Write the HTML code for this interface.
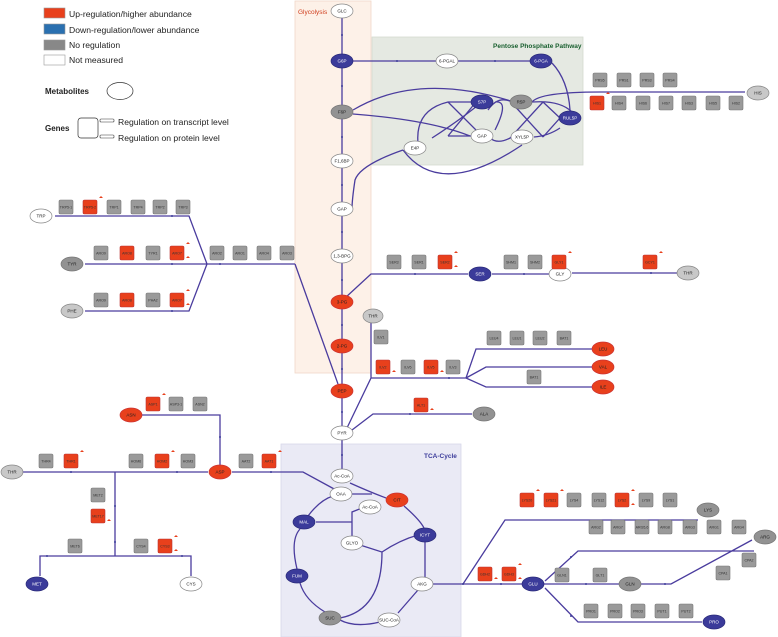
<!DOCTYPE html>
<html><head><meta charset="utf-8"><style>
html,body{margin:0;padding:0;background:#fff}
svg{display:block;font-family:"Liberation Sans",sans-serif}
.l{fill:none;stroke:#4a3c9e;stroke-width:1.3}
.g{fill:#9a9a9a;stroke:#777;stroke-width:.6}
.r{fill:#e8401c;stroke:#b33;stroke-width:.6}
.gt{font-size:3.6px;fill:#333;text-anchor:middle}
.mt{font-size:4.5px;text-anchor:middle;fill:#222}
.mw{font-size:4.5px;text-anchor:middle;fill:#fff}
.eb{fill:#3b3b9a;stroke:#2a2a7a;stroke-width:.7}
.er{fill:#e8401c;stroke:#c33;stroke-width:.7}
.eg{fill:#929292;stroke:#777;stroke-width:.7}
.ew{fill:#fff;stroke:#888;stroke-width:.7}
.el{fill:#c8c8c8;stroke:#888;stroke-width:.7}
</style></head><body>
<svg width="778" height="637" viewBox="0 0 778 637">
<rect x="295" y="1" width="76" height="372" fill="#fdf1e8" stroke="#f0d8c8" stroke-width=".8"/>
<rect x="372" y="37" width="211" height="128" fill="#e5e9e2" stroke="#d4dad0" stroke-width=".8"/>
<rect x="281" y="444" width="180" height="193" fill="#eaeaf5" stroke="#d8d8ea" stroke-width=".8"/>
<text x="298" y="14" font-size="6.5" fill="#d04020">Glycolysis</text>
<text x="493" y="48" font-size="6.5" fill="#1a6030" font-weight="bold">Pentose Phosphate Pathway</text>
<text x="424" y="458" font-size="6.5" fill="#3b3b9a" font-weight="bold">TCA-Cycle</text>

<rect x="44" y="8" width="21" height="10" fill="#e8401c" stroke="#999" stroke-width=".6"/>
<rect x="44" y="24" width="21" height="10" fill="#2a70b0" stroke="#999" stroke-width=".6"/>
<rect x="44" y="40" width="21" height="10" fill="#888" stroke="#999" stroke-width=".6"/>
<rect x="44" y="55" width="21" height="10" fill="#fff" stroke="#999" stroke-width=".6"/>
<g font-size="8.6" fill="#222">
<text x="69" y="17">Up-regulation/higher abundance</text>
<text x="69" y="33">Down-regulation/lower abundance</text>
<text x="69" y="48">No regulation</text>
<text x="69" y="63">Not measured</text>
<text x="118" y="125">Regulation on transcript level</text>
<text x="118" y="141">Regulation on protein level</text>
</g>
<text x="45" y="94" font-size="8" font-weight="bold" fill="#222">Metabolites</text>
<ellipse cx="120" cy="91" rx="13" ry="8.5" fill="#fff" stroke="#333" stroke-width=".7"/>
<text x="45" y="131" font-size="8" font-weight="bold" fill="#222">Genes</text>
<rect x="78" y="118" width="20" height="20" rx="3" fill="#fff" stroke="#333" stroke-width=".7"/>
<rect x="100" y="119" width="14" height="3" rx="1" fill="#fff" stroke="#333" stroke-width=".6"/>
<rect x="100" y="135" width="14" height="3" rx="1" fill="#fff" stroke="#333" stroke-width=".6"/>

<g class="l">
<path d="M342 18V54M342 68V105M342 119V154M342 168V202M342 216V249M342 263V295M342 309V339M342 353V384M342 398V426M342 440V469"/>
<path d="M353 61H436M458 61H530M552 63Q568 80 570 110"/>
<path d="M353 110Q420 70 520 104M353 114Q430 120 470 136M572 112Q560 100 532 102M560 128Q548 136 534 137"/>
<path d="M472 102H448Q415 110 418 143M432 138Q460 120 482 102M472 136H448M495 102Q510 100 495 130 M512 102Q498 95 488 110M512 137Q498 145 490 138M560 118L543 102M560 118L543 137M543 102L511 137M543 137L511 102"/>
<path d="M448 102L482 136M448 136L476 102M403 150Q360 165 355 180Q352 200 352 209M403 150Q440 200 522 145"/>
<path d="M532 102Q540 92 600 92H745"/>
<path d="M295 264H207L189 216H55M207 264H85M207 264L189 311H85M295 264L338 384"/>
<path d="M345 298L371 274H468M492 274H548M570 274H548M678 273H572"/>
<path d="M371 322V378L346 430M371 378H466L476 349H592M466 378L486 367H592M466 378L486 387H592"/>
<path d="M352 430L373 414H472"/>
<path d="M350 483Q370 492 386 498M352 494H372"/>
<path d="M281 472H232M220 465V415H142M208 472H22M115 472V556H40V576M115 556H191V576"/>
<path d="M281 472H303L336 490"/>
<path d="M404 506Q420 520 424 528M425 542V577M418 590L398 613M380 622Q355 628 340 620M325 612Q305 600 300 583M297 569Q290 540 300 529M308 516Q320 500 333 496M316 522H352V512M352 536V512L362 508M382 552Q382 610 340 618M382 552L360 545M382 552Q400 540 418 535"/>
<path d="M433 584H522M463 584L505 520H698M545 581L578 551H754M545 588L578 622H702M544 584H619M641 584H671L752 540"/>
</g>
<g fill="#3b3b9a">
<circle cx="342" cy="35" r="1"/><circle cx="342" cy="86" r="1"/><circle cx="342" cy="137" r="1"/><circle cx="342" cy="185" r="1"/><circle cx="342" cy="232" r="1"/><circle cx="342" cy="280" r="1"/><circle cx="342" cy="325" r="1"/><circle cx="342" cy="369" r="1"/><circle cx="342" cy="412" r="1"/><circle cx="342" cy="455" r="1"/>
<circle cx="397" cy="61" r="1"/><circle cx="495" cy="61" r="1"/><circle cx="172" cy="216" r="1"/><circle cx="172" cy="264" r="1"/><circle cx="172" cy="311" r="1"/><circle cx="220" cy="264" r="1"/>
<circle cx="415" cy="274" r="1"/><circle cx="524" cy="274" r="1"/><circle cx="651" cy="273" r="1"/>
<circle cx="449" cy="378" r="1"/><circle cx="410" cy="414" r="1"/><circle cx="271" cy="472" r="1"/><circle cx="220" cy="437" r="1"/><circle cx="71" cy="472" r="1"/><circle cx="177" cy="472" r="1"/><circle cx="115" cy="506" r="1"/><circle cx="115" cy="542" r="1"/><circle cx="47" cy="556" r="1"/><circle cx="182" cy="556" r="1"/>
<circle cx="463" cy="584" r="1"/><circle cx="501" cy="584" r="1"/><circle cx="586" cy="584" r="1"/><circle cx="665" cy="584" r="1"/><circle cx="571" cy="557" r="1"/><circle cx="571" cy="616" r="1"/>
</g>

<g>
<ellipse class="ew" cx="342" cy="11" rx="11" ry="7"/><text class="mt" x="342" y="12.5">GLC</text>
<ellipse class="eb" cx="342" cy="61" rx="11" ry="7"/><text class="mw" x="342" y="62.5">G6P</text>
<ellipse class="eg" cx="342" cy="112" rx="11" ry="7"/><text class="mt" x="342" y="113.5">F6P</text>
<ellipse class="ew" cx="342" cy="161" rx="11" ry="7"/><text class="mt" x="342" y="162.5">F1,6BP</text>
<ellipse class="ew" cx="342" cy="209" rx="11" ry="7"/><text class="mt" x="342" y="210.5">GAP</text>
<ellipse class="ew" cx="342" cy="256" rx="11" ry="7"/><text class="mt" x="342" y="257.5">1,3-BPG</text>
<ellipse class="er" cx="342" cy="302" rx="11" ry="7"/><text class="mt" x="342" y="303.5">3-PG</text>
<ellipse class="er" cx="342" cy="346" rx="11" ry="7"/><text class="mt" x="342" y="347.5">2-PG</text>
<ellipse class="er" cx="342" cy="391" rx="11" ry="7"/><text class="mt" x="342" y="392.5">PEP</text>
<ellipse class="ew" cx="342" cy="433" rx="11" ry="7"/><text class="mt" x="342" y="434.5">PYR</text>
<ellipse class="ew" cx="342" cy="476" rx="11" ry="7"/><text class="mt" x="342" y="477.5">Ac-CoA</text>
<ellipse class="ew" cx="447" cy="61" rx="11" ry="7"/><text class="mt" x="447" y="62.5">6-PGAL</text>
<ellipse class="eb" cx="541" cy="61" rx="11" ry="7"/><text class="mw" x="541" y="62.5">6-PGA</text>
<ellipse class="eb" cx="570" cy="118" rx="11" ry="7"/><text class="mw" x="570" y="119.5">RUL5P</text>
<ellipse class="eg" cx="521" cy="102" rx="11" ry="7"/><text class="mt" x="521" y="103.5">R5P</text>
<ellipse class="eb" cx="482" cy="102" rx="11" ry="7"/><text class="mw" x="482" y="103.5">S7P</text>
<ellipse class="ew" cx="482" cy="136" rx="11" ry="7"/><text class="mt" x="482" y="137.5">GAP</text>
<ellipse class="ew" cx="522" cy="137" rx="11" ry="7"/><text class="mt" x="522" y="138.5">XYL5P</text>
<ellipse class="ew" cx="415" cy="148" rx="11" ry="7"/><text class="mt" x="415" y="149.5">E4P</text>
<ellipse class="el" cx="758" cy="93" rx="11" ry="7"/><text class="mt" x="758" y="94.5">HIS</text>
<ellipse class="ew" cx="41" cy="216" rx="11" ry="7"/><text class="mt" x="41" y="217.5">TRP</text>
<ellipse class="eg" cx="72" cy="264" rx="11" ry="7"/><text class="mt" x="72" y="265.5">TYR</text>
<ellipse class="el" cx="72" cy="311" rx="11" ry="7"/><text class="mt" x="72" y="312.5">PHE</text>
<ellipse class="eb" cx="480" cy="274" rx="11" ry="7"/><text class="mw" x="480" y="275.5">SER</text>
<ellipse class="ew" cx="560" cy="274" rx="11" ry="7"/><text class="mt" x="560" y="275.5">GLY</text>
<ellipse class="el" cx="688" cy="273" rx="11" ry="7"/><text class="mt" x="688" y="274.5">THR</text>
<ellipse class="el" cx="373" cy="316" rx="10" ry="7"/><text class="mt" x="373" y="317.5">THR</text>
<ellipse class="er" cx="603" cy="349" rx="11" ry="7"/><text class="mt" x="603" y="350.5">LEU</text>
<ellipse class="er" cx="603" cy="367" rx="11" ry="7"/><text class="mt" x="603" y="368.5">VAL</text>
<ellipse class="er" cx="603" cy="387" rx="11" ry="7"/><text class="mt" x="603" y="388.5">ILE</text>
<ellipse class="eg" cx="484" cy="414" rx="11" ry="7"/><text class="mt" x="484" y="415.5">ALA</text>
<ellipse class="er" cx="220" cy="472" rx="11" ry="7"/><text class="mt" x="220" y="473.5">ASP</text>
<ellipse class="er" cx="131" cy="415" rx="11" ry="7"/><text class="mt" x="131" y="416.5">ASN</text>
<ellipse class="el" cx="12" cy="472" rx="11" ry="7"/><text class="mt" x="12" y="473.5">THR</text>
<ellipse class="eb" cx="37" cy="584" rx="11" ry="7"/><text class="mw" x="37" y="585.5">MET</text>
<ellipse class="ew" cx="191" cy="584" rx="11" ry="7"/><text class="mt" x="191" y="585.5">CYS</text>
<ellipse class="ew" cx="341" cy="494" rx="11" ry="7"/><text class="mt" x="341" y="495.5">OAA</text>
<ellipse class="er" cx="397" cy="500" rx="11" ry="7"/><text class="mt" x="397" y="501.5">CIT</text>
<ellipse class="ew" cx="370" cy="507" rx="11" ry="7"/><text class="mt" x="370" y="508.5">Ac-CoA</text>
<ellipse class="eb" cx="304" cy="522" rx="11" ry="7"/><text class="mw" x="304" y="523.5">MAL</text>
<ellipse class="ew" cx="352" cy="543" rx="11" ry="7"/><text class="mt" x="352" y="544.5">GLYO</text>
<ellipse class="eb" cx="425" cy="535" rx="11" ry="7"/><text class="mw" x="425" y="536.5">ICYT</text>
<ellipse class="eb" cx="297" cy="576" rx="11" ry="7"/><text class="mw" x="297" y="577.5">FUM</text>
<ellipse class="ew" cx="422" cy="584" rx="11" ry="7"/><text class="mt" x="422" y="585.5">AKG</text>
<ellipse class="eg" cx="330" cy="618" rx="11" ry="7"/><text class="mt" x="330" y="619.5">SUC</text>
<ellipse class="ew" cx="389" cy="620" rx="11" ry="7"/><text class="mt" x="389" y="621.5">SUC-CoA</text>
<ellipse class="eb" cx="533" cy="584" rx="11" ry="7"/><text class="mw" x="533" y="585.5">GLU</text>
<ellipse class="eg" cx="708" cy="510" rx="11" ry="7"/><text class="mt" x="708" y="511.5">LYS</text>
<ellipse class="eg" cx="765" cy="537" rx="11" ry="7"/><text class="mt" x="765" y="538.5">ARG</text>
<ellipse class="eg" cx="630" cy="584" rx="11" ry="7"/><text class="mt" x="630" y="585.5">GLN</text>
<ellipse class="eb" cx="714" cy="622" rx="11" ry="7"/><text class="mw" x="714" y="623.5">PRO</text>
</g>

<g transform="translate(380,0)">
<rect class="g" x="213" y="73" width="14" height="14" rx="1.5"/><text class="gt" x="220" y="81.5">PRS5</text>
<rect class="g" x="237" y="73" width="14" height="14" rx="1.5"/><text class="gt" x="244" y="81.5">PRS1</text>
<rect class="g" x="260" y="73" width="14" height="14" rx="1.5"/><text class="gt" x="267" y="81.5">PRS3</text>
<rect class="g" x="283" y="73" width="14" height="14" rx="1.5"/><text class="gt" x="290" y="81.5">PRS4</text>
<rect class="r" x="210" y="96" width="14" height="14" rx="1.5"/><text class="gt" x="217" y="104.5">HIS1</text>
<rect class="g" x="232" y="96" width="14" height="14" rx="1.5"/><text class="gt" x="239" y="104.5">HIS4</text>
<rect class="g" x="256" y="96" width="14" height="14" rx="1.5"/><text class="gt" x="263" y="104.5">HIS6</text>
<rect class="g" x="279" y="96" width="14" height="14" rx="1.5"/><text class="gt" x="286" y="104.5">HIS7</text>
<rect class="g" x="302" y="96" width="14" height="14" rx="1.5"/><text class="gt" x="309" y="104.5">HIS3</text>
<rect class="g" x="326" y="96" width="14" height="14" rx="1.5"/><text class="gt" x="333" y="104.5">HIS5</text>
<rect class="g" x="349" y="96" width="14" height="14" rx="1.5"/><text class="gt" x="356" y="104.5">HIS2</text>
</g>
<g>
<rect class="g" x="59" y="200" width="14" height="14" rx="1.5"/><text class="gt" x="66" y="208.5">TRP5-1</text>
<rect class="r" x="83" y="200" width="14" height="14" rx="1.5"/><text class="gt" x="90" y="208.5">TRP5-2</text>
<rect class="g" x="107" y="200" width="14" height="14" rx="1.5"/><text class="gt" x="114" y="208.5">TRP1</text>
<rect class="g" x="131" y="200" width="14" height="14" rx="1.5"/><text class="gt" x="138" y="208.5">TRP4</text>
<rect class="g" x="153" y="200" width="14" height="14" rx="1.5"/><text class="gt" x="160" y="208.5">TRP2</text>
<rect class="g" x="176" y="200" width="14" height="14" rx="1.5"/><text class="gt" x="183" y="208.5">TRP3</text>
<rect class="g" x="94" y="246" width="14" height="14" rx="1.5"/><text class="gt" x="101" y="254.5">ARO9</text>
<rect class="r" x="120" y="246" width="14" height="14" rx="1.5"/><text class="gt" x="127" y="254.5">ARO8</text>
<rect class="g" x="146" y="246" width="14" height="14" rx="1.5"/><text class="gt" x="153" y="254.5">TYR1</text>
<rect class="r" x="170" y="246" width="14" height="14" rx="1.5"/><text class="gt" x="177" y="254.5">ARO7</text>
<rect class="g" x="94" y="293" width="14" height="14" rx="1.5"/><text class="gt" x="101" y="301.5">ARO9</text>
<rect class="r" x="120" y="293" width="14" height="14" rx="1.5"/><text class="gt" x="127" y="301.5">ARO8</text>
<rect class="g" x="146" y="293" width="14" height="14" rx="1.5"/><text class="gt" x="153" y="301.5">PHA2</text>
<rect class="r" x="170" y="293" width="14" height="14" rx="1.5"/><text class="gt" x="177" y="301.5">ARO7</text>
<rect class="g" x="210" y="246" width="14" height="14" rx="1.5"/><text class="gt" x="217" y="254.5">ARO2</text>
<rect class="g" x="233" y="246" width="14" height="14" rx="1.5"/><text class="gt" x="240" y="254.5">ARO1</text>
<rect class="g" x="257" y="246" width="14" height="14" rx="1.5"/><text class="gt" x="264" y="254.5">ARO4</text>
<rect class="g" x="280" y="246" width="14" height="14" rx="1.5"/><text class="gt" x="287" y="254.5">ARO3</text>
<rect class="g" x="387" y="255" width="14" height="14" rx="1.5"/><text class="gt" x="394" y="263.5">SER3</text>
<rect class="g" x="412" y="255" width="14" height="14" rx="1.5"/><text class="gt" x="419" y="263.5">SER1</text>
<rect class="r" x="438" y="255" width="14" height="14" rx="1.5"/><text class="gt" x="445" y="263.5">SER2</text>
<rect class="g" x="504" y="255" width="14" height="14" rx="1.5"/><text class="gt" x="511" y="263.5">SHM1</text>
<rect class="g" x="528" y="255" width="14" height="14" rx="1.5"/><text class="gt" x="535" y="263.5">SHM2</text>
<rect class="r" x="552" y="255" width="14" height="14" rx="1.5"/><text class="gt" x="559" y="263.5">GLY1</text>
<rect class="r" x="643" y="255" width="14" height="14" rx="1.5"/><text class="gt" x="650" y="263.5">GCY1</text>
<rect class="g" x="374" y="330" width="14" height="14" rx="1.5"/><text class="gt" x="381" y="338.5">ILV1</text>
<rect class="r" x="376" y="360" width="14" height="14" rx="1.5"/><text class="gt" x="383" y="368.5">ILV2</text>
<rect class="g" x="401" y="360" width="14" height="14" rx="1.5"/><text class="gt" x="408" y="368.5">ILV6</text>
<rect class="r" x="424" y="360" width="14" height="14" rx="1.5"/><text class="gt" x="431" y="368.5">ILV5</text>
<rect class="g" x="446" y="360" width="14" height="14" rx="1.5"/><text class="gt" x="453" y="368.5">ILV3</text>
<rect class="g" x="487" y="331" width="14" height="14" rx="1.5"/><text class="gt" x="494" y="339.5">LEU4</text>
<rect class="g" x="510" y="331" width="14" height="14" rx="1.5"/><text class="gt" x="517" y="339.5">LEU1</text>
<rect class="g" x="533" y="331" width="14" height="14" rx="1.5"/><text class="gt" x="540" y="339.5">LEU2</text>
<rect class="g" x="557" y="331" width="14" height="14" rx="1.5"/><text class="gt" x="564" y="339.5">BAT1</text>
<rect class="g" x="527" y="370" width="14" height="14" rx="1.5"/><text class="gt" x="534" y="378.5">BAT1</text>
<rect class="r" x="414" y="398" width="14" height="14" rx="1.5"/><text class="gt" x="421" y="406.5">ALT1</text>
<rect class="r" x="146" y="397" width="14" height="14" rx="1.5"/><text class="gt" x="153" y="405.5">ASP1</text>
<rect class="g" x="169" y="397" width="14" height="14" rx="1.5"/><text class="gt" x="176" y="405.5">ASP3-1</text>
<rect class="g" x="193" y="397" width="14" height="14" rx="1.5"/><text class="gt" x="200" y="405.5">ASN2</text>
<rect class="g" x="239" y="454" width="14" height="14" rx="1.5"/><text class="gt" x="246" y="462.5">AAT2</text>
<rect class="r" x="262" y="454" width="14" height="14" rx="1.5"/><text class="gt" x="269" y="462.5">AAT1</text>
<rect class="g" x="129" y="454" width="14" height="14" rx="1.5"/><text class="gt" x="136" y="462.5">HOM6</text>
<rect class="r" x="155" y="454" width="14" height="14" rx="1.5"/><text class="gt" x="162" y="462.5">HOM2</text>
<rect class="g" x="181" y="454" width="14" height="14" rx="1.5"/><text class="gt" x="188" y="462.5">HOM3</text>
<rect class="g" x="39" y="454" width="14" height="14" rx="1.5"/><text class="gt" x="46" y="462.5">THR4</text>
<rect class="r" x="64" y="454" width="14" height="14" rx="1.5"/><text class="gt" x="71" y="462.5">THR1</text>
<rect class="g" x="91" y="488" width="14" height="14" rx="1.5"/><text class="gt" x="98" y="496.5">MET2</text>
<rect class="r" x="91" y="509" width="14" height="14" rx="1.5"/><text class="gt" x="98" y="517.5">MET17</text>
<rect class="g" x="68" y="539" width="14" height="14" rx="1.5"/><text class="gt" x="75" y="547.5">MET6</text>
<rect class="g" x="134" y="539" width="14" height="14" rx="1.5"/><text class="gt" x="141" y="547.5">CYS4</text>
<rect class="r" x="158" y="539" width="14" height="14" rx="1.5"/><text class="gt" x="165" y="547.5">CYS3</text>
<rect class="r" x="478" y="567" width="14" height="14" rx="1.5"/><text class="gt" x="485" y="575.5">GDH2</text>
<rect class="r" x="502" y="567" width="14" height="14" rx="1.5"/><text class="gt" x="509" y="575.5">GDH3</text>
<rect class="g" x="555" y="568" width="14" height="14" rx="1.5"/><text class="gt" x="562" y="576.5">GLN1</text>
<rect class="g" x="593" y="568" width="14" height="14" rx="1.5"/><text class="gt" x="600" y="576.5">GLT1</text>
<rect class="r" x="520" y="493" width="14" height="14" rx="1.5"/><text class="gt" x="527" y="501.5">LYS20</text>
<rect class="r" x="544" y="493" width="14" height="14" rx="1.5"/><text class="gt" x="551" y="501.5">LYS21</text>
<rect class="g" x="567" y="493" width="14" height="14" rx="1.5"/><text class="gt" x="574" y="501.5">LYS4</text>
<rect class="g" x="592" y="493" width="14" height="14" rx="1.5"/><text class="gt" x="599" y="501.5">LYS12</text>
<rect class="r" x="615" y="493" width="14" height="14" rx="1.5"/><text class="gt" x="622" y="501.5">LYS2</text>
<rect class="g" x="639" y="493" width="14" height="14" rx="1.5"/><text class="gt" x="646" y="501.5">LYS9</text>
<rect class="g" x="663" y="493" width="14" height="14" rx="1.5"/><text class="gt" x="670" y="501.5">LYS1</text>
<rect class="g" x="589" y="520" width="14" height="14" rx="1.5"/><text class="gt" x="596" y="528.5">ARG2</text>
<rect class="g" x="611" y="520" width="14" height="14" rx="1.5"/><text class="gt" x="618" y="528.5">ARG7</text>
<rect class="g" x="635" y="520" width="14" height="14" rx="1.5"/><text class="gt" x="642" y="528.5">ARG5,6</text>
<rect class="g" x="658" y="520" width="14" height="14" rx="1.5"/><text class="gt" x="665" y="528.5">ARG8</text>
<rect class="g" x="683" y="520" width="14" height="14" rx="1.5"/><text class="gt" x="690" y="528.5">ARG3</text>
<rect class="g" x="707" y="520" width="14" height="14" rx="1.5"/><text class="gt" x="714" y="528.5">ARG1</text>
<rect class="g" x="732" y="520" width="14" height="14" rx="1.5"/><text class="gt" x="739" y="528.5">ARG4</text>
<rect class="g" x="742" y="553" width="14" height="14" rx="1.5"/><text class="gt" x="749" y="561.5">CPA2</text>
<rect class="g" x="716" y="566" width="14" height="14" rx="1.5"/><text class="gt" x="723" y="574.5">CPA1</text>
<rect class="g" x="584" y="604" width="14" height="14" rx="1.5"/><text class="gt" x="591" y="612.5">PRO1</text>
<rect class="g" x="608" y="604" width="14" height="14" rx="1.5"/><text class="gt" x="615" y="612.5">PRO2</text>
<rect class="g" x="631" y="604" width="14" height="14" rx="1.5"/><text class="gt" x="638" y="612.5">PRO3</text>
<rect class="g" x="655" y="604" width="14" height="14" rx="1.5"/><text class="gt" x="662" y="612.5">PUT1</text>
<rect class="g" x="679" y="604" width="14" height="14" rx="1.5"/><text class="gt" x="686" y="612.5">PUT2</text>
</g>
<g fill="#e8401c">
<path d="M606 94l2-2 2 2zM99 198l2-2 2 2zM186 244l2-2 2 2zM186 258l2-2 2 2zM186 291l2-2 2 2zM186 305l2-2 2 2zM454 253l2-2 2 2zM454 267l2-2 2 2zM568 253l2-2 2 2zM659 253l2-2 2 2zM392 372l2-2 2 2zM440 372l2-2 2 2zM430 410l2-2 2 2zM162 395l2-2 2 2zM278 452l2-2 2 2zM171 452l2-2 2 2zM80 452l2-2 2 2zM107 521l2-2 2 2zM174 537l2-2 2 2zM174 551l2-2 2 2zM494 579l2-2 2 2zM518 565l2-2 2 2zM518 579l2-2 2 2zM536 491l2-2 2 2zM560 491l2-2 2 2zM631 491l2-2 2 2zM631 505l2-2 2 2z"/>
</g>
</svg>
</body></html>
